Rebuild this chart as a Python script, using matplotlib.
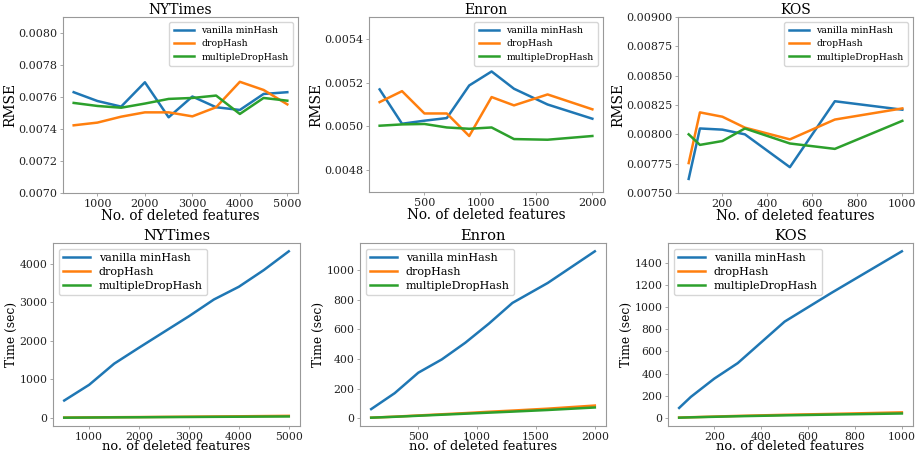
import matplotlib
matplotlib.use("Agg")
import matplotlib.pyplot as plt

plt.rcParams['font.family'] = 'DejaVu Serif'

labels = ['vanilla minHash', 'dropHash', 'multipleDropHash']
colors = ['#1f77b4', '#ff7f0e', '#2ca02c']

# RMSE
ny_x = [500, 1000, 1500, 2000, 2500, 3000, 3500, 4000, 4500, 5000]
ny_rmse_vanilla = [0.00763, 0.007575, 0.00754, 0.007692, 0.007473, 0.007603, 0.007536, 0.007519, 0.007619, 0.00763]
ny_rmse_drop = [0.007423, 0.00744, 0.007477, 0.007504, 0.007504, 0.007479, 0.007536, 0.007695, 0.007644, 0.007554]
ny_rmse_multi = [0.007563, 0.007544, 0.007533, 0.007559, 0.007588, 0.007594, 0.007609, 0.007494, 0.007594, 0.007577]

en_x = [100, 300, 500, 700, 900, 1100, 1300, 1600, 2000]
en_rmse_vanilla = [0.005169, 0.005012, 0.005026, 0.005038, 0.005187, 0.005251, 0.005172, 0.0051, 0.005035]
en_rmse_drop = [0.005111, 0.005161, 0.005059, 0.005059, 0.004956, 0.005134, 0.005096, 0.005146, 0.005078]
en_rmse_multi = [0.005003, 0.005009, 0.005011, 0.004995, 0.004989, 0.004995, 0.004942, 0.004939, 0.004956]

kos_x = [50, 100, 200, 300, 500, 700, 1000]
kos_rmse_vanilla = [0.00762, 0.00805, 0.00804, 0.008, 0.00772, 0.008282, 0.00821]
kos_rmse_drop = [0.007755, 0.008187, 0.00815, 0.008057, 0.007957, 0.008126, 0.008221]
kos_rmse_multi = [0.008, 0.00791, 0.007943, 0.00805, 0.007922, 0.007876, 0.008115]

# running time
ny_time_vanilla = [452, 861, 1409, 1826, 2235, 2643, 3078, 3409, 3843, 4330]
ny_time_drop = [8, 13, 18, 22, 27, 32, 37, 42, 48, 54]
ny_time_multi = [6, 10, 14, 17, 21, 24, 28, 31, 35, 38]

en_time_vanilla = [61, 169, 307, 397, 510, 639, 779, 914, 1128]
en_time_drop = [3, 10, 18, 26, 34, 43, 51, 64, 85]
en_time_multi = [3, 9, 16, 23, 30, 37, 44, 55, 72]

kos_time_vanilla = [90, 190, 355, 495, 870, 1130, 1505]
kos_time_drop = [3, 6, 12, 18, 28, 36, 50]
kos_time_multi = [2, 5, 10, 15, 23, 30, 40]

W, H = 924, 454
fig = plt.figure(figsize=(W / 100, H / 100), dpi=100)


def box(l, r, t, b):
    return [l / W, 1 - b / H, (r - l) / W, (b - t) / H]


def style(ax, size):
    for s in ax.spines.values():
        s.set_color('#999999')
        s.set_linewidth(0.8)
    ax.tick_params(colors='#999999', labelcolor='#222222', length=2.5, width=0.6,
                   pad=1.5, labelsize=size)


top = [
    ('NYTimes', ny_x, [ny_rmse_vanilla, ny_rmse_drop, ny_rmse_multi], box(63, 298, 17, 193),
     (0.0070, 0.0081), [0.0070 + 0.0002 * i for i in range(6)], '%.4f', [1000, 2000, 3000, 4000, 5000]),
    ('Enron', en_x, [en_rmse_vanilla, en_rmse_drop, en_rmse_multi], box(369, 603, 17, 192),
     (0.0047, 0.0055), [0.0048, 0.0050, 0.0052, 0.0054], '%.4f', [500, 1000, 1500, 2000]),
    ('KOS', kos_x, [kos_rmse_vanilla, kos_rmse_drop, kos_rmse_multi], box(678, 913, 17, 193),
     (0.0075, 0.0090), [0.0075 + 0.00025 * i for i in range(7)], '%.5f', [200, 400, 600, 800, 1000]),
]

for title, x, series, pos, ylim, yt, fmt, xt in top:
    ax = fig.add_axes(pos)
    for y, lab, c in zip(series, labels, colors):
        ax.plot(x, y, color=c, lw=1.8, label=lab)
    ax.set_ylim(*ylim)
    ax.set_yticks(yt)
    ax.set_yticklabels([fmt % v for v in yt])
    ax.set_xticks(xt)
    ax.set_title(title, fontsize=10, pad=2)
    ax.set_xlabel('No. of deleted features', fontsize=9.8, labelpad=0)
    ax.set_ylabel('RMSE', fontsize=10, labelpad=1)
    ax.legend(loc='upper right', fontsize=6.7, handlelength=2.2, borderpad=0.5, labelspacing=0.45)
    style(ax, 8.0)

bottom = [
    ('NYTimes', ny_x, [ny_time_vanilla, ny_time_drop, ny_time_multi], box(53, 300, 243, 426),
     [0, 1000, 2000, 3000, 4000], [1000, 2000, 3000, 4000, 5000]),
    ('Enron', en_x, [en_time_vanilla, en_time_drop, en_time_multi], box(360, 606, 243, 426),
     [0, 200, 400, 600, 800, 1000], [500, 1000, 1500, 2000]),
    ('KOS', kos_x, [kos_time_vanilla, kos_time_drop, kos_time_multi], box(668, 913, 243, 426),
     [0, 200, 400, 600, 800, 1000, 1200, 1400], [200, 400, 600, 800, 1000]),
]

for title, x, series, pos, yt, xt in bottom:
    ax = fig.add_axes(pos)
    for y, lab, c in zip(series, labels, colors):
        ax.plot(x, y, color=c, lw=1.8, label=lab)
    ax.set_yticks(yt)
    ax.set_xticks(xt)
    ax.set_title(title, fontsize=10.5, pad=2)
    ax.set_xlabel('no. of deleted features', fontsize=9.4, labelpad=-1)
    ax.set_ylabel('Time (sec)', fontsize=8.8, labelpad=1)
    ax.legend(loc='upper left', fontsize=8.0, handlelength=2.4, borderpad=0.4, labelspacing=0.35)
    style(ax, 7.8)

fig.savefig('out.png', dpi=100)
